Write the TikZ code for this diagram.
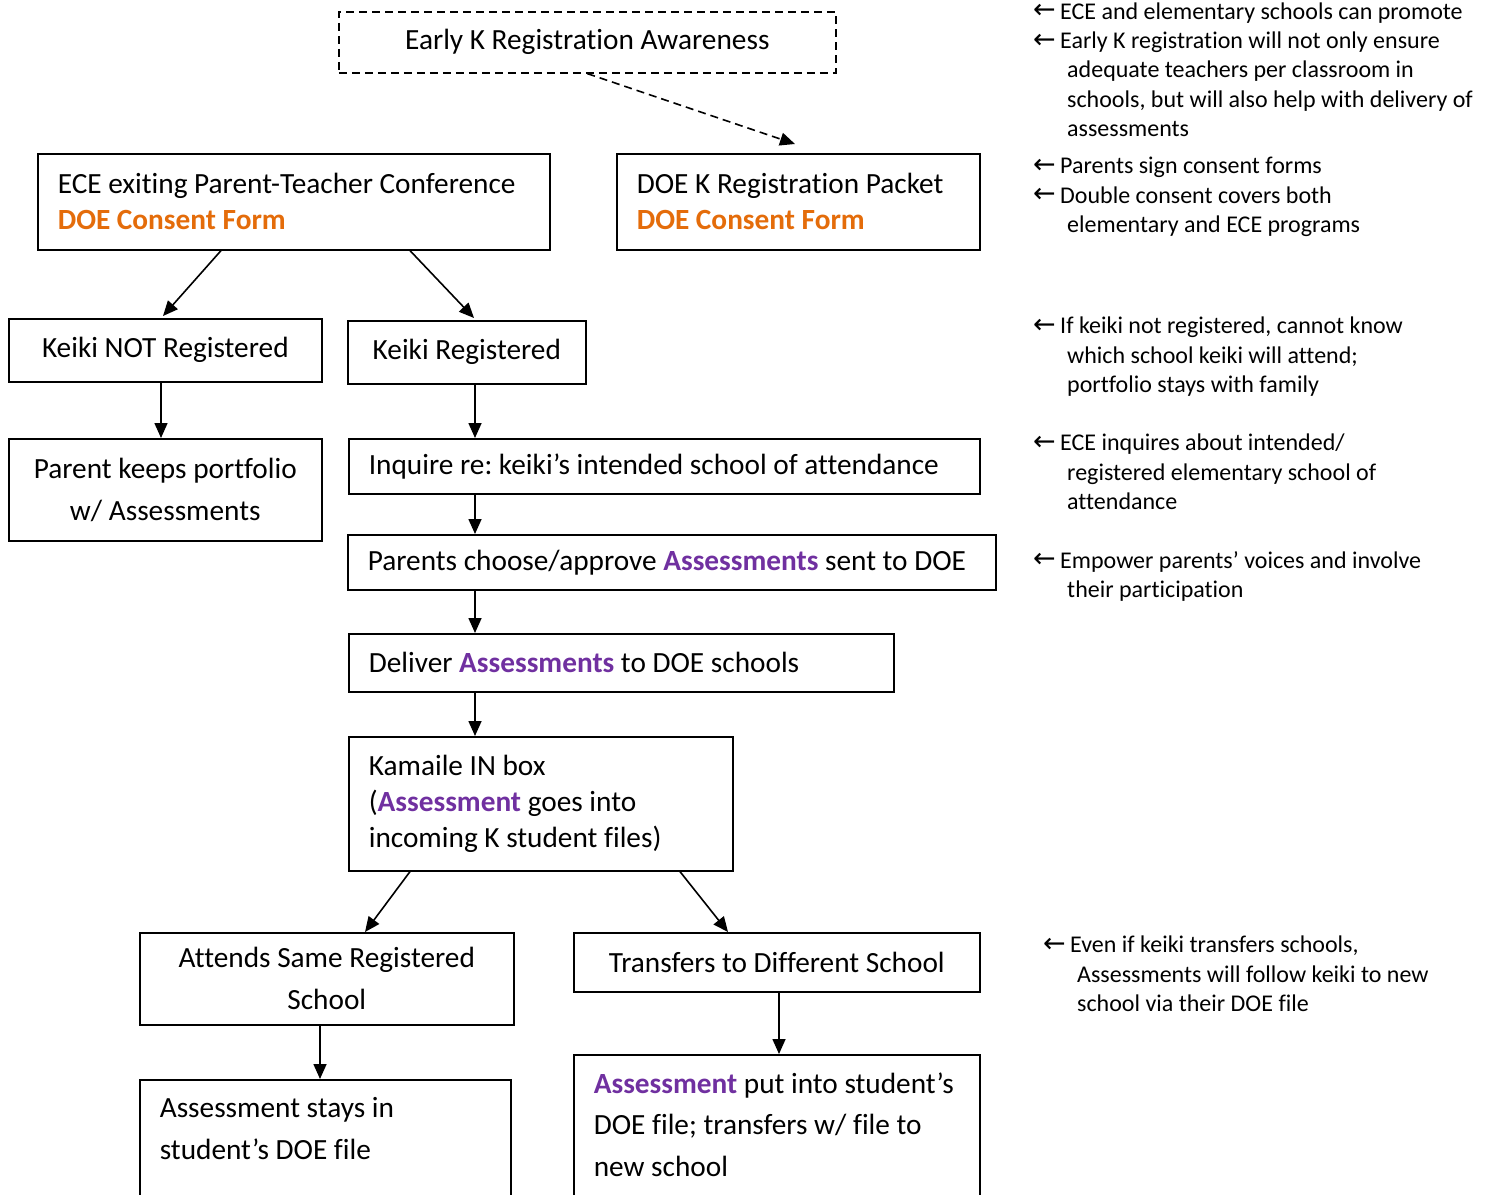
\documentclass[tikz,border=0pt]{standalone}
\usepackage{fontspec}
\setmainfont{Carlito}[Ligatures=NoCommon]
\newfontfamily\arrowfont{DejaVu Sans}
\usetikzlibrary{arrows.meta}
\definecolor{consent}{HTML}{E46C0A}
\definecolor{assess}{HTML}{7030A0}
\frenchspacing
\newcommand{\lar}{\makebox[27pt][l]{\arrowfont\fontsize{27}{27}\selectfont\raisebox{0.5pt}{←}}}
\newcommand{\ind}{\hspace*{34pt}}
\newcommand{\asm}[1]{\textcolor{assess}{\textbf{#1}}}
\newcommand{\dcf}{\textcolor{consent}{\textbf{DOE Consent Form}}}

\begin{document}
\begin{tikzpicture}[
	x=1pt,
	y=-1pt,
	box/.style={
		draw,
		line width=1.6pt,
		anchor=north west,
		inner sep=0pt,
		font=\fontsize{29.3}{36}\selectfont,
	},
	lbox/.style={
		box,
		align=flush left,
		inner xsep=20pt,
	},
	cbox/.style={
		box,
		align=center,
	},
	topbox/.style={
		lbox,
		inner ysep=18pt,
		text depth=160pt,
		font=\fontsize{29.3}{41.5}\selectfont,
	},
	flow/.style={
		-{Triangle[length=15pt,width=13pt]},
		line width=1.6pt,
	},
	note/.style={
		anchor=north west,
		inner sep=0pt,
		align=flush left,
		font=\fontsize{24}{29.3}\selectfont,
	},
]
\useasboundingbox (0,0) rectangle (1491,1194);
\clip (0,0) rectangle (1491,1194);

\node[cbox, dash pattern=on 8pt off 5pt, minimum width=497pt, minimum height=61pt] (aware) at (338,11) {Early K Registration Awareness};
\node[lbox, text width=472pt, minimum height=96pt] (ece) at (37,153) {ECE exiting Parent-Teacher Conference\\ \dcf};
\node[lbox, text width=323pt, minimum height=96pt] (packet) at (616,153) {DOE K Registration Packet\\ \dcf};
\node[cbox, minimum width=313pt, minimum height=63pt] (notreg) at (8,318) {Keiki NOT Registered};
\node[cbox, minimum width=238pt, minimum height=63pt] (reg) at (347,320) {Keiki Registered};
\node[cbox, minimum width=313pt, minimum height=102pt, font=\fontsize{29.3}{42}\selectfont] (keeps) at (8,438) {Parent keeps portfolio\\ w/ Assessments};
\node[lbox, text width=591pt, minimum height=55pt] (inquire) at (348,438) {Inquire re: keiki’s intended school of attendance};
\node[lbox, text width=608pt, minimum height=55pt] (choose) at (347,534) {Parents choose/approve \asm{Assessments} sent to DOE};
\node[lbox, text width=505pt, minimum height=58pt] (deliver) at (348,633) {Deliver \asm{Assessments} to DOE schools};
\node[lbox, text width=344pt, minimum height=134pt] (inbox) at (348,736) {Kamaile IN box\\ (\asm{Assessment} goes into\\ incoming K student files)};
\node[cbox, minimum width=374pt, minimum height=92pt, font=\fontsize{29.3}{42}\selectfont] (same) at (139,932) {Attends Same Registered\\ School};
\node[cbox, minimum width=406pt, minimum height=59pt] (transfer) at (573,932) {Transfers to Different School};
\node[topbox, text width=331pt] (stays) at (139,1079) {Assessment stays in\\ student’s DOE file};
\node[topbox, text width=366pt] (put) at (573,1054) {\asm{Assessment} put into student’s\\ DOE file; transfers w/ file to\\ new school};

\draw[flow, dash pattern=on 8pt off 5pt] (aware.south) -- ([xshift=179pt,yshift=9pt]packet.north west);
\draw[flow] ([xshift=184pt]ece.south west) -- ([xshift=155pt,yshift=2pt]notreg.north west);
\draw[flow] ([xshift=373pt]ece.south west) -- ([xshift=127pt,yshift=2pt]reg.north west);
\draw[flow] ([xshift=153pt]notreg.south west) -- ([xshift=153pt]keeps.north west);
\draw[flow] ([xshift=128pt]reg.south west) -- ([xshift=127pt]inquire.north west);
\draw[flow] ([xshift=127pt]inquire.south west) -- ([xshift=128pt]choose.north west);
\draw[flow] ([xshift=128pt]choose.south west) -- ([xshift=127pt]deliver.north west);
\draw[flow] ([xshift=127pt]deliver.south west) -- ([xshift=127pt]inbox.north west);
\draw[flow] ([xshift=62pt]inbox.south west) -- ([xshift=226pt]same.north west);
\draw[flow] ([xshift=332pt]inbox.south west) -- ([xshift=155pt]transfer.north west);
\draw[flow] ([xshift=181pt]same.south west) -- ([xshift=181pt]stays.north west);
\draw[flow] ([xshift=206pt]transfer.south west) -- ([xshift=206pt]put.north west);

\node[note] (promote) at (1033,2.5) {\lar ECE and elementary schools can promote\\ \lar Early K registration will not only ensure\\ \ind adequate teachers per classroom in\\ \ind schools, but will also help with delivery of\\ \ind assessments};
\node[note] (forms) at (1033,157) {\lar Parents sign consent forms\\ \lar Double consent covers both\\ \ind elementary and ECE programs};
\node[note] (family) at (1033,317) {\lar If keiki not registered, cannot know\\ \ind which school keiki will attend;\\ \ind portfolio stays with family};
\node[note] (intend) at (1033,434) {\lar ECE inquires about intended/\\ \ind registered elementary school of\\ \ind attendance};
\node[note] (voices) at (1033,551) {\lar Empower parents’ voices and involve\\ \ind their participation};
\node[note] (follow) at (1043,936) {\lar Even if keiki transfers schools,\\ \ind Assessments will follow keiki to new\\ \ind school via their DOE file};
\end{tikzpicture}
\end{document}
